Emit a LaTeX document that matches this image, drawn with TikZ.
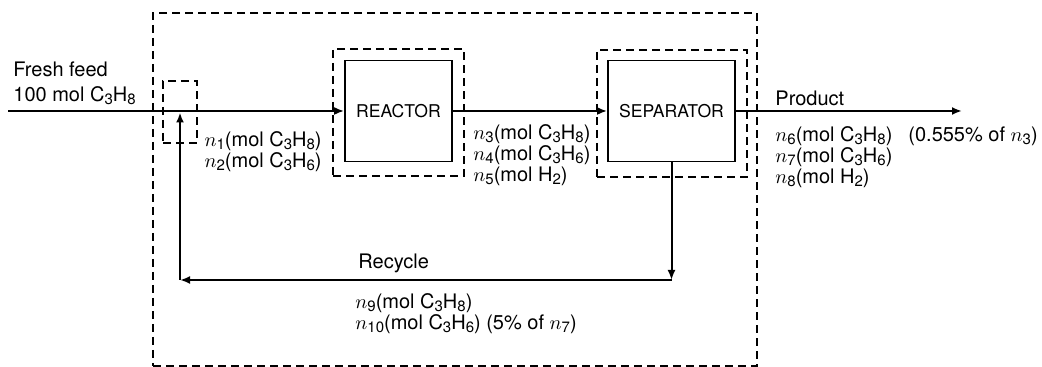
\documentclass[tikz,border=0pt]{standalone}
\usepackage{fontspec}
\setmainfont{TeX Gyre Heros}
\usetikzlibrary{arrows.meta,positioning}
\newcommand{\ind}[1]{\raisebox{-1.6pt}{\fontsize{7.5}{8}\selectfont #1}}
\newcommand{\nsub}[1]{$n$\ind{#1}}
\tikzset{
  caja/.style={draw,line width=0.9pt,minimum height=50.5pt,inner sep=0pt,font=\fontsize{8.8}{10}\selectfont},
  zona/.style={draw,line width=0.6pt,dash pattern=on 4pt off 2.5pt,inner sep=0pt},
  flecha/.style={-{Latex[length=5pt,width=4pt]},line width=1.2pt},
  flechar/.style={-{Latex[length=5pt,width=4pt]},line width=1pt},
  etiqueta/.style={font=\fontsize{10}{10.6}\selectfont,inner sep=0pt,align=left},
}
\begin{document}
\begin{tikzpicture}[x=0.5pt,y=-0.5pt]
  \useasboundingbox (0,0) rectangle (1042,367);
  % limites del sistema
  \node[zona,minimum width=302pt,minimum height=176.5pt] (sistema) at (455,189.5) {};
  \node[zona,minimum width=17pt,minimum height=31pt] (mezcla) at (180,112) {};
  % unidades
  \node[caja,minimum width=53.5pt] (reactor) at (398.5,111) {REACTOR};
  \node[zona,minimum width=65.5pt,minimum height=63.5pt] (zreactor) at (398.5,112.5) {};
  \node[caja,minimum width=63.5pt] (separador) at (671.5,111) {SEPARATOR};
  \node[zona,minimum width=75pt,minimum height=63.5pt] (zseparador) at (672,113.5) {};
  % corrientes
  \coordinate (entrada) at (8,111);
  \coordinate (salida) at (962,111);
  \coordinate (esq1) at (671.5,280);
  \coordinate (esq2) at (180,280);
  \coordinate (union) at (180,112.5);
  \draw[flecha] (entrada) -- (reactor);
  \draw[flecha] (reactor) -- (separador);
  \draw[flecha] (separador) -- (salida);
  \draw[flechar] (separador) -- (esq1);
  \draw[flechar] (esq1) -- (esq2);
  \draw[flechar] (esq2) -- (union);
  % etiquetas
  \node[etiqueta,font=\fontsize{10}{12.5}\selectfont,anchor=north west] (alim) at (13,61) {Fresh feed\\100 mol C\ind{3}H\ind{8}};
  \node[etiqueta,align=right,anchor=north east] (s1) at (322,131) {\nsub{1}(mol C\ind{3}H\ind{8})\\\nsub{2}(mol C\ind{3}H\ind{6})};
  \node[etiqueta,anchor=north west] (s2) at (473,124) {\nsub{3}(mol C\ind{3}H\ind{8})\\\nsub{4}(mol C\ind{3}H\ind{6})\\\nsub{5}(mol H\ind{2})};
  \node[etiqueta,anchor=west] (prod) at (775,98) {Product};
  \node[etiqueta,anchor=north west] (s3) at (775,126) {\nsub{6}(mol C\ind{3}H\ind{8})\\\nsub{7}(mol C\ind{3}H\ind{6})\\\nsub{8}(mol H\ind{2})};
  \node[etiqueta,anchor=north west] (pct) at (908,126) {(0.555\% of \nsub{3})};
  \node[etiqueta,anchor=west] (rec) at (358,263) {Recycle};
  \node[etiqueta,anchor=north west] (s4) at (355,293) {\nsub{9}(mol C\ind{3}H\ind{8})\\\nsub{10}(mol C\ind{3}H\ind{6}) (5\% of \nsub{7})};
\end{tikzpicture}
\end{document}
